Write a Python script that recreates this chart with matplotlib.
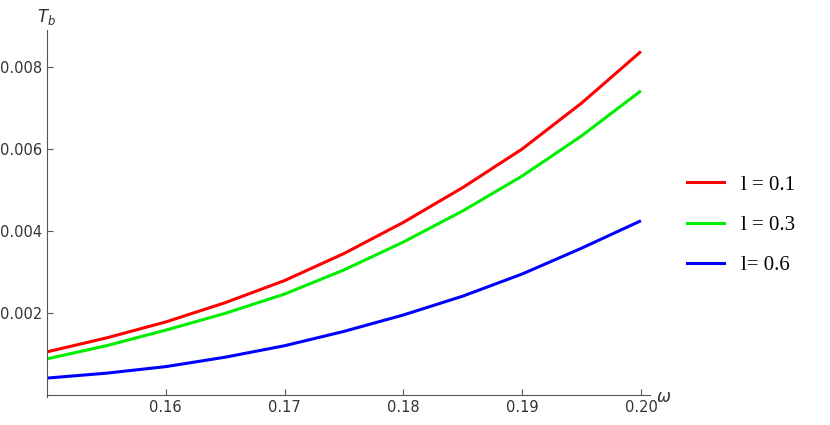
import matplotlib
matplotlib.use("Agg")
import matplotlib.pyplot as plt
from matplotlib.lines import Line2D

omega = [0.15, 0.155, 0.16, 0.165, 0.17, 0.175, 0.18, 0.185, 0.19, 0.195, 0.20]
t_l01 = [0.00105, 0.00139, 0.00178, 0.00225, 0.00279, 0.00345, 0.00421, 0.00506, 0.0060, 0.00712, 0.00838]
t_l03 = [0.00088, 0.00120, 0.00158, 0.00199, 0.00246, 0.00305, 0.00373, 0.00449, 0.00534, 0.00632, 0.00742]
t_l06 = [0.00041, 0.00053, 0.00069, 0.00092, 0.00120, 0.00155, 0.00195, 0.00241, 0.00295, 0.00358, 0.00425]
labels = ["l = 0.1", "l = 0.3", "l= 0.6"]
colors = ["#ff0000", "#00ee00", "#0000ff"]
xticks = [0.16, 0.17, 0.18, 0.19, 0.20]
yticks = [0.002, 0.004, 0.006, 0.008]

fig = plt.figure(figsize=(8.3, 4.25), dpi=100)
ax = fig.add_axes([0.0566, 0.066, 0.7265, 0.863])
for y, c in zip([t_l01, t_l03, t_l06], colors):
    ax.plot(omega, y, color=c, lw=2.2, solid_capstyle="butt", solid_joinstyle="round")
ax.set_xlim(0.15, 0.20076)
ax.set_ylim(-0.00005, 0.0089)
for s in ["top", "right"]:
    ax.spines[s].set_visible(False)
for s in ["left", "bottom"]:
    ax.spines[s].set_color("#555555")
ax.spines["bottom"].set_position(("data", 0))
ax.set_xticks(xticks)
ax.set_xticklabels(["0.16", "0.17", "0.18", "0.19", "0.20"])
ax.set_yticks(yticks)
ax.set_yticklabels(["0.002", "0.004", "0.006", "0.008"])
ax.tick_params(direction="in", length=4, color="#555555", labelsize=10.5, labelcolor="#333333")
ax.text(0.0, 1.01, r"$T_b$", transform=ax.transAxes, fontsize=12, color="#333333", ha="center", va="bottom")
ax.text(1.01, 0.0, r"$\omega$", transform=ax.transAxes, fontsize=12, color="#333333", ha="left", va="center")
handles = [Line2D([0], [0], color=c, lw=2.2) for c in colors]
fig.legend(handles, labels, loc="center left", bbox_to_anchor=(0.805, 0.47), frameon=False,
           prop={"family": "Liberation Serif", "size": 15}, handlelength=1.8, labelspacing=1.0)
fig.savefig("out.png", dpi=100)
